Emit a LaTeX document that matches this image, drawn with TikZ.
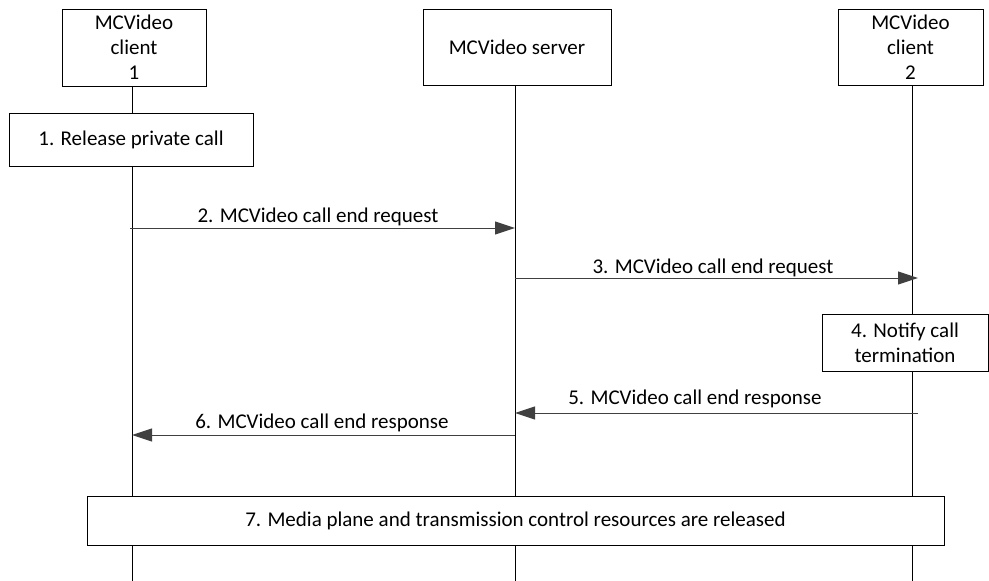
\documentclass[tikz,border=0pt]{standalone}
\usepackage{fontspec}
\setmainfont{Carlito}
\usetikzlibrary{arrows.meta}
\begin{document}
\begin{tikzpicture}[x=1pt,y=-1pt,
  every node/.style={font=\fontsize{21}{25}\selectfont, inner sep=0pt},
  box/.style={draw, line width=1pt, fill=white, align=center},
  life/.style={line width=1pt},
  msg/.style={line width=1pt, draw=black!75, -{Triangle[length=20pt,width=13pt]}},
  lbl/.style={anchor=base}]
\useasboundingbox (0,0) rectangle (989,581);
% participant boxes
\node[box, minimum width=144pt, minimum height=77pt] (c1) at (134,47.5) {MCVideo\\client\\1};
\node[box, minimum width=188pt, minimum height=76pt] (srv) at (517,47) {MCVideo server};
\node[box, minimum width=145pt, minimum height=76pt] (c2) at (910.5,47) {MCVideo\\client\\2};
% lifeline ends
\coordinate (e1) at (132,581);
\coordinate (es) at (515,581);
\coordinate (e2) at (912,581);
\draw[life] (132,86) -- (e1);
\draw[life] (515,85) -- (es);
\draw[life] (912,85) -- (e2);
% step boxes
\node[box, minimum width=244pt, minimum height=53pt] (s1) at (131,139.5) {1. Release private call};
\node[box, minimum width=166pt, minimum height=57pt] (s4) at (905,342.5) {4. Notify call\\termination};
\node[box, minimum width=857pt, minimum height=49pt] (s7) at (515.5,520.5) {7. Media plane and transmission control resources are released};
% message anchors
\coordinate (a2s) at (130,228);
\coordinate (a2e) at (515,228);
\coordinate (a3s) at (515,278);
\coordinate (a3e) at (918,278);
\coordinate (a5s) at (918,413);
\coordinate (a5e) at (515,413);
\coordinate (a6s) at (515,435);
\coordinate (a6e) at (132,435);
\draw[msg] (a2s) -- (a2e);
\draw[msg] (a3s) -- (a3e);
\draw[msg] (a5s) -- (a5e);
\draw[msg] (a6s) -- (a6e);
\node[lbl] (l2) at (318,222) {2. MCVideo call end request};
\node[lbl] (l3) at (713,273) {3. MCVideo call end request};
\node[lbl] (l5) at (695,404) {5. MCVideo call end response};
\node[lbl] (l6) at (322,428) {6. MCVideo call end response};
\end{tikzpicture}
\end{document}
